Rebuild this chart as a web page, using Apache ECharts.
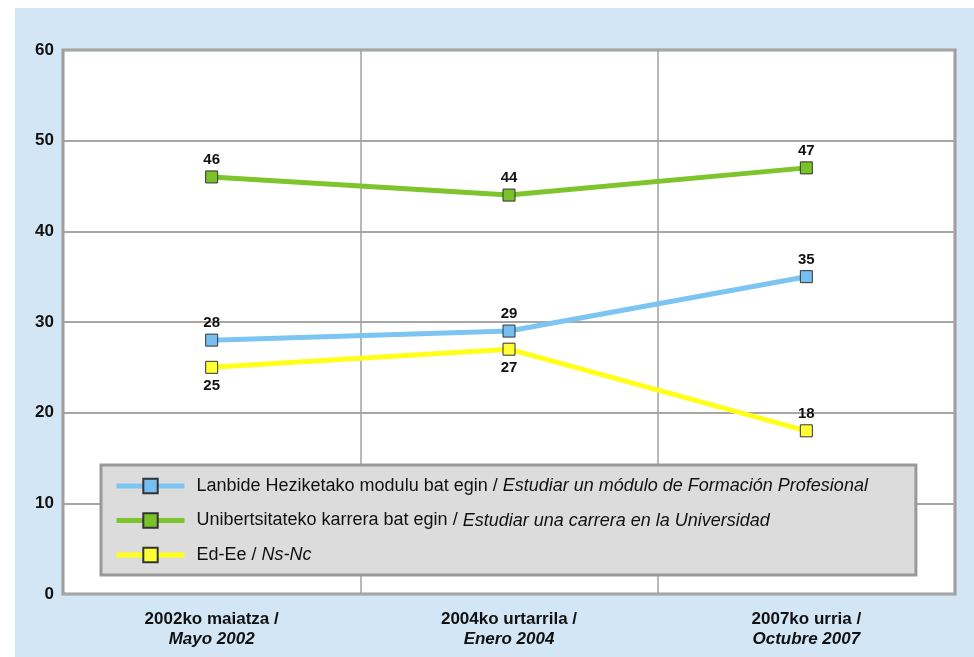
<!DOCTYPE html>
<html>
<head>
<meta charset="utf-8">
<script src="https://cdn.jsdelivr.net/npm/echarts@6/dist/echarts.min.js"></script>
<style>
    html, body { margin: 0; padding: 0; background: #ffffff; }
    #panel { position: absolute; left: 15px; top: 8px; width: 959px; height: 649px; background: #d2e6f5; }
    #chart { position: absolute; left: 0; top: 0; width: 974px; height: 657px; }
</style>
</head>
<body>
<div id="panel"></div>
<div id="chart"></div>
<script>
// fechas de las oleadas
var categories = ['2002ko maiatza /|Mayo 2002', '2004ko urtarrila /|Enero 2004', '2007ko urria /|Octubre 2007'];
var yTicks = [0, 10, 20, 30, 40, 50, 60];

var nameFP = ['Lanbide Heziketako modulu bat egin / ', 'Estudiar un módulo de Formación Profesional'];
var nameUni = ['Unibertsitateko karrera bat egin / ', 'Estudiar una carrera en la Universidad'];
var nameNs = ['Ed-Ee / ', 'Ns-Nc'];

var valuesFP = [28, 29, 35];
var valuesUni = [46, 44, 47];
var valuesNs = [25, 27, 18];

var FONT = "'Liberation Sans', Arial, sans-serif";

var chartDom = document.getElementById('chart');
var myChart = echarts.init(chartDom);

function makeSeries(name, data, color, markColor, labelPos) {
    return {
        name: name,
        type: 'line',
        data: data.map(function (v, i) {
            return {
                value: v,
                label: { position: labelPos[i], distance: labelPos[i] == 'top' ? 3 : 5 }
            };
        }),
        symbol: 'rect',
        symbolSize: 12,
        lineStyle: { color: color, width: 5 },
        itemStyle: { color: markColor, borderColor: '#333333', borderWidth: 1 },
        label: {
            show: true,
            color: '#111',
            fontSize: 15,
            fontWeight: 'bold',
            fontFamily: FONT
        },
        emphasis: { disabled: true }
    };
}

var option = {
    animation: false,
    backgroundColor: 'transparent',
    grid: {
        left: 63, right: 19, top: 50, bottom: 63,
        show: true,
        backgroundColor: '#ffffff',
        borderColor: '#999999',
        borderWidth: 3
    },
    legend: {
        orient: 'vertical',
        left: 101,
        top: 465,
        backgroundColor: '#dcdcdc',
        borderColor: '#999999',
        borderWidth: 3,
        padding: [12, 48, 11, 13],
        itemWidth: 68,
        itemHeight: 18,
        itemGap: 16.5,
        lineStyle: { width: 5 },
        textStyle: {
            fontFamily: FONT,
            fontSize: 18,
            color: '#111',
            padding: [0, 0, 0, 7],
            rich: {
                a: { fontSize: 18, lineHeight: 18, fontFamily: FONT, color: '#111' },
                b: { fontSize: 18, lineHeight: 18, fontFamily: FONT, fontStyle: 'italic', color: '#111' }
            }
        },
        formatter: function (name) {
            var p = name.split('|');
            return '{a|' + p[0] + '}{b|' + p[1] + '}';
        },
        data: [nameFP.join('|'), nameUni.join('|'), nameNs.join('|')]
    },
    xAxis: {
        type: 'category',
        data: categories,
        boundaryGap: true,
        axisLine: { show: false },
        axisTick: { show: false },
        splitLine: { show: true, lineStyle: { color: '#a0a0a0', width: 1.5 } },
        axisLabel: {
            margin: 15,
            fontFamily: FONT,
            formatter: function (v) {
                var p = v.split('|');
                return '{a|' + p[0] + '}\n{b|' + p[1] + '}';
            },
            rich: {
                a: { fontSize: 17, fontWeight: 'bold', color: '#111', lineHeight: 20, fontFamily: FONT },
                b: { fontSize: 17, fontWeight: 'bold', fontStyle: 'italic', color: '#111', lineHeight: 20, fontFamily: FONT }
            }
        }
    },
    yAxis: {
        type: 'value',
        min: yTicks[0],
        max: yTicks[yTicks.length - 1],
        interval: 10,
        axisLine: { show: false },
        axisTick: { show: false },
        splitLine: { show: true, lineStyle: { color: '#a6a6a6', width: 2 } },
        axisLabel: {
            margin: 9,
            fontSize: 17,
            fontWeight: 'bold',
            color: '#111',
            fontFamily: FONT
        }
    },
    series: [
        makeSeries(nameFP.join('|'), valuesFP, '#7cc5f2', '#76bff0', ['top', 'top', 'top']),
        makeSeries(nameUni.join('|'), valuesUni, '#7ec42c', '#7bc12a', ['top', 'top', 'top']),
        makeSeries(nameNs.join('|'), valuesNs, '#ffff1a', '#ffff33', ['bottom', 'bottom', 'top'])
    ]
};

option && myChart.setOption(option);
</script>
</body>
</html>
